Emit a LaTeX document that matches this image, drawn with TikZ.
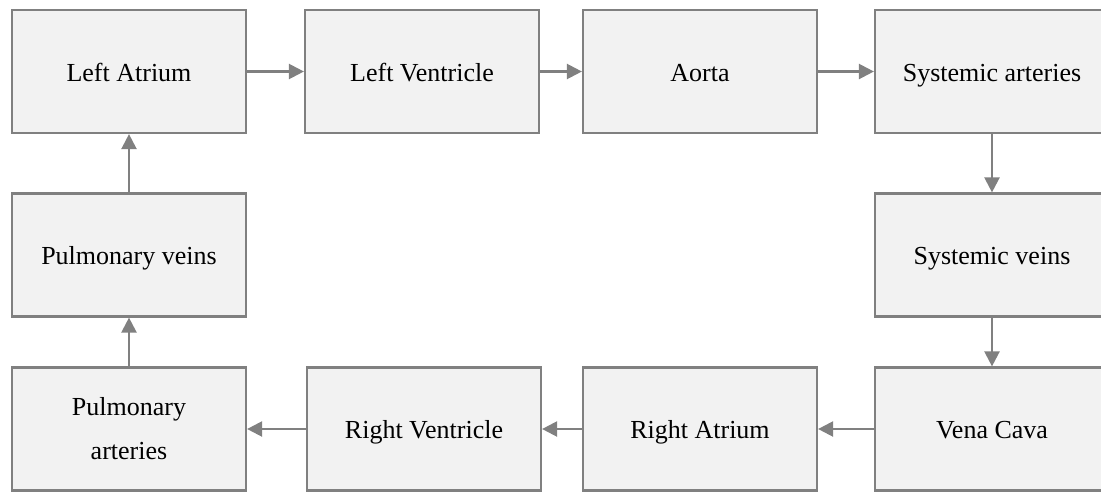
\documentclass[tikz,border=0pt]{standalone}
\usepackage{fontspec}
\setmainfont{Liberation Serif}
\usetikzlibrary{arrows.meta}
\definecolor{rim}{HTML}{808080}
\definecolor{pane}{HTML}{F2F2F2}

\begin{document}
\begin{tikzpicture}[x=1pt,y=-1pt,
  organ/.style={draw=rim,fill=pane,line width=2.2pt,minimum width=234pt,minimum height=123pt,
    inner sep=0pt,align=center,text height=19pt,text depth=0pt,font=\fontsize{26}{44}\selectfont},
  flow/.style={rim,line width=2.3pt,-{Triangle[length=15pt,width=15pt]}}]
  \useasboundingbox (0,0) rectangle (1101,491);
  % top row
  \node[organ] (la) at (129,71.5) {Left Atrium};
  \node[organ] (lv) at (422,71.5) {Left Ventricle};
  \node[organ] (ao) at (700,71.5) {Aorta};
  \node[organ] (sa) at (992,71.5) {Systemic arteries};
  % middle row
  \node[organ] (pv) at (129,255) {Pulmonary veins};
  \node[organ] (sv) at (992,255) {Systemic veins};
  % bottom row
  \node[organ,text height={},text depth={}] (pa) at (129,429) {Pulmonary\\arteries};
  \node[organ] (rv) at (424,429) {Right Ventricle};
  \node[organ] (ra) at (700,429) {Right Atrium};
  \node[organ] (vc) at (992,429) {Vena Cava};
  % circulation
  \draw[flow] (la) -- (lv); \draw[flow] (lv) -- (ao); \draw[flow] (ao) -- (sa);
  \draw[flow] (sa) -- (sv); \draw[flow] (sv) -- (vc);
  \draw[flow] (vc) -- (ra); \draw[flow] (ra) -- (rv); \draw[flow] (rv) -- (pa);
  \draw[flow] (pa) -- (pv); \draw[flow] (pv) -- (la);
\end{tikzpicture}
\end{document}
